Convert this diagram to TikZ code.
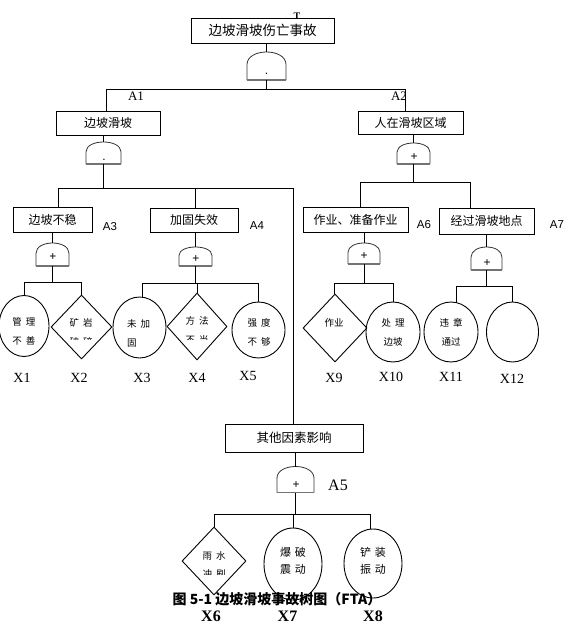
\documentclass[tikz,border=0pt]{standalone}
\usepackage{fontspec}
\setmainfont{Liberation Serif}
\setsansfont{Liberation Sans}
\newfontfamily\cjk{Noto Sans CJK SC}
\usetikzlibrary{shapes.geometric,calc}
\newcommand\gp{\hspace{4pt}}
\begin{document}
\begin{tikzpicture}[x=1pt,y=-1pt,
  ln/.style={line width=0.9pt},
  box/.style={draw, line width=0.9pt, inner sep=0, font=\cjk\fontsize{12}{14}\selectfont},
  gatebox/.style={inner sep=0, outer sep=0},
  sym/.style={inner sep=0, font=\sffamily\fontsize{12}{12}\selectfont},
  ev/.style={ellipse, draw, line width=0.9pt, inner sep=0},
  dm/.style={diamond, draw, line width=0.9pt, inner sep=0},
  ct/.style={inner sep=0, align=center, font=\cjk\fontsize{9.5}{19}\selectfont},
  ctb/.style={inner sep=0, align=center, font=\cjk\fontsize{11}{17}\selectfont},
  xl/.style={inner sep=0, font=\fontsize{14}{16}\selectfont},
  xlb/.style={inner sep=0, font=\bfseries\fontsize{16}{18}\selectfont},
  al/.style={inner sep=0, font=\sffamily\fontsize{11.5}{13}\selectfont},
  ats/.style={inner sep=0, font=\fontsize{13}{15}\selectfont}
]
\useasboundingbox (0,0) rectangle (574,634);

% ---------- boxes ----------
\node[box, font=\cjk\fontsize{13.5}{15}\selectfont, minimum width=143pt, minimum height=25pt] (T) at (262.5,30.5) {边坡滑坡伤亡事故};
\node[box, minimum width=104pt, minimum height=24pt] (A1b) at (108,123) {边坡滑坡};
\node[box, minimum width=105pt, minimum height=23pt] (A2b) at (410.5,123) {人在滑坡区域};
\node[box, minimum width=79pt, minimum height=25pt] (A3b) at (52.5,219.5) {边坡不稳};
\node[box, minimum width=88pt, minimum height=24pt] (A4b) at (194,220) {加固失效};
\node[box, minimum width=105pt, minimum height=25pt] (A6b) at (355.5,219.5) {作业、准备作业};
\node[box, minimum width=95pt, minimum height=26pt] (A7b) at (486.5,221) {经过滑坡地点};
\node[box, font=\cjk\fontsize{12.5}{14}\selectfont, minimum width=138pt, minimum height=28pt] (A5b) at (294,438) {其他因素影响};

% ---------- labels ----------
\node[inner sep=0, font=\bfseries\fontsize{10}{12}\selectfont] (Tl) at (297,16) {T};
\node[ats] (A1l) at (136,96) {A1};
\node[ats] (A2l) at (399,96) {A2};
\node[al] (A3l) at (110,227) {A3};
\node[al] (A4l) at (257,226) {A4};
\node[al] (A6l) at (424,225) {A6};
\node[al] (A7l) at (557,225) {A7};
\node[inner sep=0, font=\fontsize{16}{18}\selectfont] (A5l) at (338,485) {A5};

% ---------- gates ----------
\node[gatebox, minimum width=39pt, minimum height=28pt] (g0) at (266.5,66) {};
\node[gatebox, minimum width=35pt, minimum height=22pt] (g1) at (103.5,153) {};
\node[gatebox, minimum width=33pt, minimum height=21pt] (g2) at (413.5,153.5) {};
\node[gatebox, minimum width=33pt, minimum height=23pt] (g3) at (52.5,254.5) {};
\node[gatebox, minimum width=33pt, minimum height=19pt] (g4) at (195.5,256.5) {};
\node[gatebox, minimum width=37pt, minimum height=26pt] (g5) at (295.5,479.5) {};
\node[gatebox, minimum width=32pt, minimum height=21pt] (g6) at (364,253.5) {};
\node[gatebox, minimum width=31pt, minimum height=23pt] (g7) at (486.5,258.5) {};
\foreach \g in {g0,g1,g2,g3,g4,g5,g6,g7}{
  \draw[line width=0.8pt, black!80] (\g.south west)
     -- ($(\g.south west)!0.55!(\g.north west)$)
     .. controls ($(\g.north west)!-0.15!(\g.south west)$) and ($(\g.north east)!-0.15!(\g.south east)$)
     .. ($(\g.south east)!0.55!(\g.north east)$) -- (\g.south east);
  \draw[line width=1.6pt, black!55] (\g.south west) -- (\g.south east);
}
\node[sym] (s0) at (266.5,74) {.};
\node[sym] (s1) at (104,159.5) {.};
\node[sym] (s2) at (414,157) {+};
\node[sym] (s3) at (53,257) {+};
\node[sym] (s4) at (196,259.5) {+};
\node[sym] (s5) at (296,485) {+};
\node[sym] (s6) at (364,256.5) {+};
\node[sym] (s7) at (487,263) {+};

% ---------- basic events ----------
\node[ev, minimum width=50pt, minimum height=61pt] (X1) at (24,326) {};
\node[dm, minimum width=61pt, minimum height=64pt] (X2) at (81.5,327) {};
\node[ev, minimum width=53pt, minimum height=61pt] (X3) at (139.5,327.5) {};
\node[dm, minimum width=60pt, minimum height=67pt] (X4) at (197,326.5) {};
\node[ev, minimum width=53pt, minimum height=56pt] (X5) at (258.5,330) {};
\node[dm, minimum width=64pt, minimum height=68pt] (X6) at (214,561) {};
\node[ev, minimum width=58pt, minimum height=72pt] (X7) at (293,564) {};
\node[ev, minimum width=58pt, minimum height=69pt] (X8) at (373,563.5) {};
\node[dm, minimum width=64pt, minimum height=68pt] (X9) at (335,328) {};
\node[ev, minimum width=54pt, minimum height=60pt] (X10) at (393,332) {};
\node[ev, minimum width=54pt, minimum height=60pt] (X11) at (451,332) {};
\node[ev, minimum width=52pt, minimum height=60pt] (X12) at (512.5,332) {};

% texts inside events
\node[ct] (t1) at (24,331.5) {管\gp 理\\不\gp 善};
\node[ct] (t2) at (81,323) {矿\gp 岩};
\begin{scope}\clip (60,330) rectangle (102,339.5);
\node[ct] (t2b) at (81,342) {破\gp 碎};
\end{scope}
\node[ct, align=left, anchor=west] (t3) at (127,333) {未\gp 加\\固};
\node[ct] (t4) at (197,321) {方\gp 法};
\begin{scope}\clip (176,330) rectangle (218,339.5);
\node[ct] (t4b) at (197,340) {不\gp 当};
\end{scope}
\node[ct] (t5) at (259,332.5) {强\gp 度\\不\gp 够};
\node[ct] (t6) at (214,556) {雨\gp 水};
\begin{scope}\clip (194,565) rectangle (234,574.5);
\node[ct] (t6b) at (214,574) {冲\gp 刷};
\end{scope}
\node[ctb] (t7) at (293,560.5) {爆\gp 破\\震\gp 动};
\node[ctb] (t8) at (373,560.5) {铲\gp 装\\振\gp 动};
\node[ct] (t9) at (334,323) {作业};
\node[ct] (t10) at (393,332.5) {处\gp 理\\边坡};
\node[ct] (t11) at (451,332.5) {违\gp 章\\通过};

% event labels
\node[xl] (l1) at (22,378) {X1};
\node[xl] (l2) at (79,378) {X2};
\node[xl] (l3) at (142,378) {X3};
\node[xl] (l4) at (197,378) {X4};
\node[xl] (l5) at (248,376) {X5};
\node[xl] (l9) at (334,378) {X9};
\node[xl] (l10) at (391,377) {X10};
\node[xl] (l11) at (451,377) {X11};
\node[xl] (l12) at (512,379) {X12};
\node[xlb] (l6) at (211,616) {X6};
\node[xlb] (l7) at (287.5,616) {X7};
\node[xlb] (l8) at (373,616) {X8};

% caption
\node[inner sep=0, font=\cjk\bfseries\fontsize{14}{16}\selectfont] (cap) at (277,599) {图 5-1 边坡滑坡事故树图（FTA）};

% ---------- junction levels ----------
\coordinate (j0) at (0,89);
\coordinate (j1) at (0,188);
\coordinate (j2) at (0,182);
\coordinate (j3) at (0,282);
\coordinate (j4) at (0,283);
\coordinate (j5) at (0,514);
\coordinate (j6) at (0,283);
\coordinate (j7) at (0,286);

% ---------- connectors ----------
\draw[ln] (T.south -| g0.north) -- (g0.north);
\draw[ln] ([xshift=-2pt]A1b.north) -- ([xshift=-2pt]A1b.north |- j0) -| (g0.south);
\draw[ln] ([xshift=-5.5pt]A2b.north) -- ([xshift=-5.5pt]A2b.north |- j0) -| (g0.south);

\draw[ln] (A1b.south -| g1.north) -- (g1.north);
\draw[ln] ([xshift=5.5pt]A3b.north) -- ([xshift=5.5pt]A3b.north |- j1) -| (g1.south);
\draw[ln] ([xshift=1pt]A4b.north) -- ([xshift=1pt]A4b.north |- j1) -| (g1.south);
\draw[ln] ([xshift=-1pt]A5b.north) -- ([xshift=-1pt]A5b.north |- j1) -| (g1.south);

\draw[ln] (A2b.south -| g2.north) -- (g2.north);
\draw[ln] ([xshift=4.5pt]A6b.north) -- ([xshift=4.5pt]A6b.north |- j2) -| (g2.south);
\draw[ln] ([xshift=-16.5pt]A7b.north) -- ([xshift=-16.5pt]A7b.north |- j2) -| (g2.south);

\draw[ln] (A3b.south -| g3.north) -- (g3.north);
\draw[ln] (X1.north) -- (X1.north |- j3) -| (g3.south);
\draw[ln] (X2.north) -- (X2.north |- j3) -| (g3.south);

\draw[ln] (A4b.south -| g4.north) -- (g4.north);
\draw[ln] ([xshift=2.5pt]X3.north) -- ([xshift=2.5pt]X3.north |- j4) -| (g4.south);
\draw[ln] (X4.north) -- (X4.north |- j4) -| (g4.south);
\draw[ln] (X5.north) -- (X5.north |- j4) -| (g4.south);

\draw[ln] (A5b.south -| g5.north) -- (g5.north);
\draw[ln] (X6.north) -- (X6.north |- j5) -| (g5.south);
\draw[ln] (X7.north) -- (X7.north |- j5) -| (g5.south);
\draw[ln] ([xshift=-3pt]X8.north) -- ([xshift=-3pt]X8.north |- j5) -| (g5.south);

\draw[ln] (A6b.south -| g6.north) -- (g6.north);
\draw[ln] ([xshift=-1pt]X9.north) -- ([xshift=-1pt]X9.north |- j6) -| (g6.south);
\draw[ln] (X10.north) -- (X10.north |- j6) -| (g6.south);

\draw[ln] (A7b.south -| g7.north) -- (g7.north);
\draw[ln] ([xshift=5pt]X11.north) -- ([xshift=5pt]X11.north |- j7) -| (g7.south);
\draw[ln] (X12.north) -- (X12.north |- j7) -| (g7.south);
\end{tikzpicture}
\end{document}
